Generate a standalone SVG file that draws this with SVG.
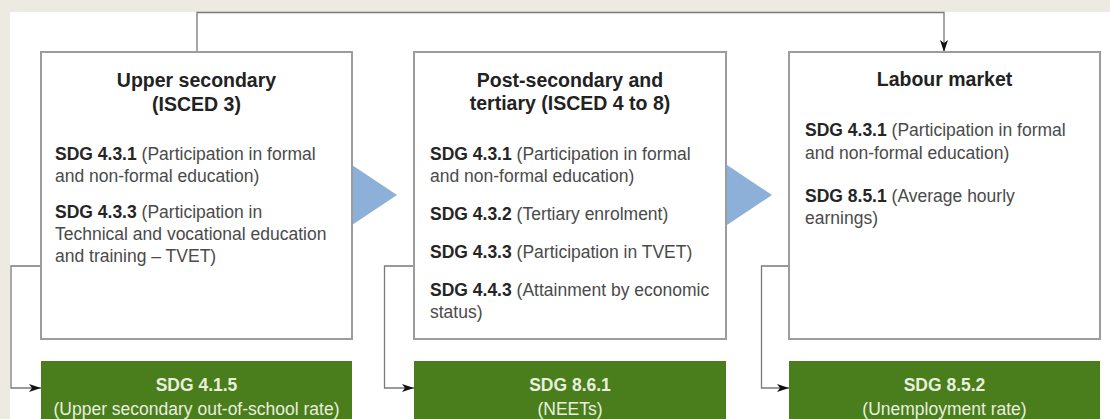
<svg xmlns="http://www.w3.org/2000/svg" width="1110" height="419" viewBox="0 0 1110 419">
<style>
.box{fill:#fff;stroke:#9c9c9c;stroke-width:2}
.green{fill:#4a7d1c}
.tri{fill:#8db0d9}
.title{font-family:"Liberation Sans",Arial,sans-serif;font-size:19.5px;font-weight:bold;fill:#222;text-anchor:middle}
.body{font-family:"Liberation Sans",Arial,sans-serif;font-size:17.5px;fill:#4a4a4a}
.b{font-weight:bold;fill:#252525}
.gt{font-family:"Liberation Sans",Arial,sans-serif;font-size:17.5px;fill:#e9efdf;text-anchor:middle}
.gtb{font-weight:bold}
.conn{fill:none;stroke:#7a7a7a;stroke-width:1.3}
</style>
<defs>
<marker id="ah" viewBox="0 0 12 8" refX="12" refY="4" markerWidth="12" markerHeight="8" markerUnits="userSpaceOnUse" orient="auto">
<path d="M0,0 L12,4 L0,8 L3,4 z" fill="#111"/>
</marker>
</defs>
<rect x="0" y="0" width="1110" height="419" fill="#edeae1"/>
<rect x="10" y="12" width="1100" height="407" fill="#fff"/>
<g id="flow-arrows">
<polygon class="tri" points="352,165 397,195 352,225"/>
<polygon class="tri" points="727,165 772,195 727,225"/>
</g>
<g id="connectors">
<path class="conn" d="M197,52 V12.5 H944 V52" marker-end="url(#ah)"/>
<path class="conn" d="M41,266 H11 V388 H41" marker-end="url(#ah)"/>
<path class="conn" d="M414,266 H384.5 V388 H414" marker-end="url(#ah)"/>
<path class="conn" d="M789,266 H761.5 V388 H789" marker-end="url(#ah)"/>
</g>
<g id="upper-secondary">
<rect class="box" x="41" y="52" width="311" height="287"/>
<text class="title" x="196.5" y="87">Upper secondary</text>
<text class="title" x="196.5" y="111">(ISCED 3)</text>
<text class="body" x="55" y="160"><tspan class="b">SDG 4.3.1</tspan> (Participation in formal</text>
<text class="body" x="55" y="182">and non-formal education)</text>
<text class="body" x="55" y="218"><tspan class="b">SDG 4.3.3</tspan> (Participation in</text>
<text class="body" x="55" y="240">Technical and vocational education</text>
<text class="body" x="55" y="262">and training – TVET)</text>
</g>
<g id="post-secondary">
<rect class="box" x="414" y="52" width="312" height="287"/>
<text class="title" x="570" y="87">Post-secondary and</text>
<text class="title" x="570" y="110">tertiary (ISCED 4 to 8)</text>
<text class="body" x="430" y="160"><tspan class="b">SDG 4.3.1</tspan> (Participation in formal</text>
<text class="body" x="430" y="182">and non-formal education)</text>
<text class="body" x="430" y="220"><tspan class="b">SDG 4.3.2</tspan> (Tertiary enrolment)</text>
<text class="body" x="430" y="258"><tspan class="b">SDG 4.3.3</tspan> (Participation in TVET)</text>
<text class="body" x="430" y="296"><tspan class="b">SDG 4.4.3</tspan> (Attainment by economic</text>
<text class="body" x="430" y="318">status)</text>
</g>
<g id="labour-market">
<rect class="box" x="789" y="52" width="311" height="287"/>
<text class="title" x="944.5" y="86">Labour market</text>
<text class="body" x="805" y="136"><tspan class="b">SDG 4.3.1</tspan> (Participation in formal</text>
<text class="body" x="805" y="159">and non-formal education)</text>
<text class="body" x="805" y="202"><tspan class="b">SDG 8.5.1</tspan> (Average hourly</text>
<text class="body" x="805" y="224">earnings)</text>
</g>
<g id="sdg-415">
<rect class="green" x="41" y="361" width="311" height="70"/>
<text class="gt gtb" x="196.5" y="391">SDG 4.1.5</text>
<text class="gt" x="196.5" y="415">(Upper secondary out-of-school rate)</text>
</g>
<g id="sdg-861">
<rect class="green" x="414" y="361" width="312" height="70"/>
<text class="gt gtb" x="570" y="391">SDG 8.6.1</text>
<text class="gt" x="570" y="415">(NEETs)</text>
</g>
<g id="sdg-852">
<rect class="green" x="789" y="361" width="311" height="70"/>
<text class="gt gtb" x="944.5" y="391">SDG 8.5.2</text>
<text class="gt" x="944.5" y="415">(Unemployment rate)</text>
</g>
</svg>
